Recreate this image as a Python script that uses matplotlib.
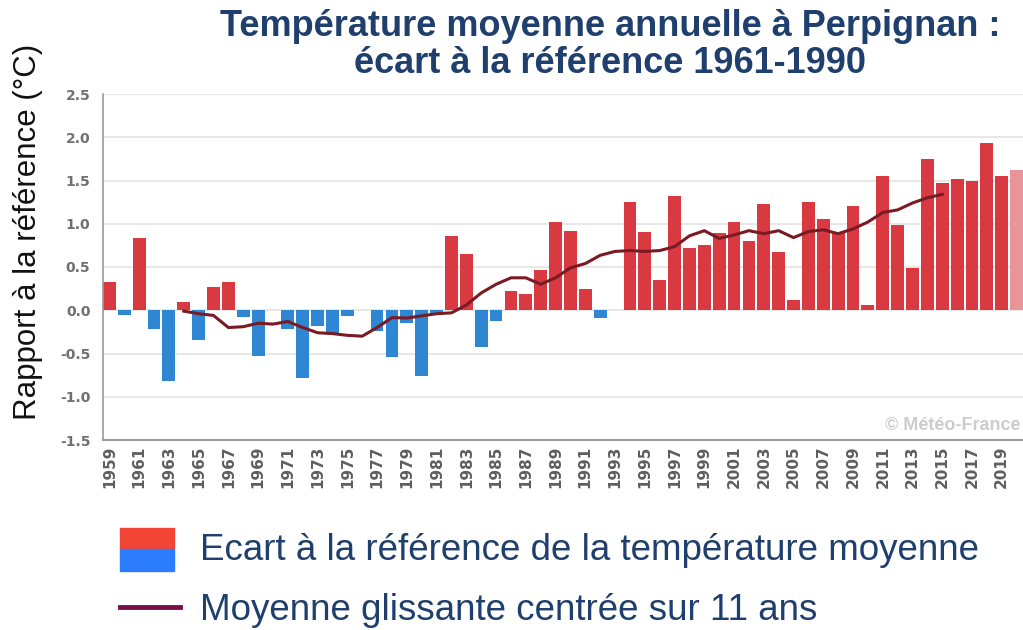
import numpy as np
import matplotlib.pyplot as plt
from matplotlib.patches import Rectangle
from matplotlib.lines import Line2D

# --- Data ---
years = list(range(1959, 2021))
anomaly = [
    0.33, -0.06, 0.83, -0.22, -0.82, 0.10, -0.34, 0.27, 0.33, -0.08,   # 1959-1968
    -0.53, 0.0, -0.22, -0.78, -0.18, -0.27, -0.07, 0.0, -0.24, -0.54,  # 1969-1978
    -0.15, -0.76, -0.05, 0.86, 0.65, -0.42, -0.12, 0.22, 0.19, 0.47,   # 1979-1988
    1.02, 0.92, 0.24, -0.09, 0.0, 1.25, 0.90, 0.35, 1.32, 0.72,        # 1989-1998
    0.75, 0.89, 1.02, 0.80, 1.23, 0.67, 0.12, 1.25, 1.05, 0.89,        # 1999-2008
    1.20, 0.06, 1.55, 0.99, 0.49, 1.75, 1.47, 1.52, 1.50, 1.93,        # 2009-2018
    1.55, 1.62,                                                        # 2019-2020
]
provisional_year = 2020

ma_years = list(range(1964, 2016))
moving_avg = [
    -0.01, -0.04, -0.06, -0.20, -0.19, -0.15, -0.16, -0.13, -0.20, -0.26,  # 1964-1973
    -0.27, -0.29, -0.30, -0.20, -0.085, -0.09, -0.065, -0.04, -0.03, 0.06, # 1974-1983
    0.20, 0.30, 0.375, 0.375, 0.30, 0.375, 0.49, 0.54, 0.635, 0.68,        # 1984-1993
    0.69, 0.68, 0.69, 0.735, 0.86, 0.92, 0.83, 0.87, 0.92, 0.885,          # 1994-2003
    0.92, 0.84, 0.91, 0.93, 0.885, 0.94, 1.02, 1.13, 1.16, 1.24,           # 2004-2013
    1.30, 1.34,                                                            # 2014-2015
]

title = "Température moyenne annuelle à Perpignan :\nécart à la référence 1961-1990"
ylabel = "Rapport à la référence (°C)"
legend_bars = "Ecart à la référence de la température moyenne"
legend_line = "Moyenne glissante centrée sur 11 ans"

# --- Colours ---
RED = "#d93a42"
BLUE = "#2f86d2"
LIGHT_RED = "#e8959a"
LINE = "#7a1a22"
NAVY = "#1f3f6e"
TICK_GRAY = "#5e5e5e"

colors = []
for y, v in zip(years, anomaly):
    if y == provisional_year:
        colors.append(LIGHT_RED)
    elif v >= 0:
        colors.append(RED)
    else:
        colors.append(BLUE)

# --- Figure ---
fig = plt.figure(figsize=(10.23, 6.3), dpi=100)
ax = fig.add_axes([103 / 1023, 1 - 440 / 630, 920 / 1023, 346 / 630])

ax.bar(years, anomaly, width=0.86, color=colors, edgecolor="none", zorder=2)
ax.plot(ma_years, moving_avg, color=LINE, linewidth=2.2, zorder=3)

ax.set_xlim(1958.57, 2020.43)
ax.set_ylim(-1.5, 2.5)
ax.set_yticks(np.arange(-1.5, 2.51, 0.5))
ax.set_yticklabels([f"{t:.1f}" for t in np.arange(-1.5, 2.51, 0.5)],
                   fontfamily="Liberation Sans Narrow", fontweight="bold",
                   fontsize=10, color="#707070")
ax.set_xticks(years[::2])
ax.set_xticklabels([str(y) for y in years[::2]], rotation=90,
                   fontfamily="Liberation Sans Narrow", fontweight="bold",
                   fontsize=11, color=TICK_GRAY)
ax.tick_params(axis="both", length=0)
ax.tick_params(axis="x", pad=4)
ax.tick_params(axis="y", pad=9)

ax.grid(axis="y", color="#e3e3e3", linewidth=1.2, zorder=0)
ax.set_axisbelow(True)
for side in ["top", "right"]:
    ax.spines[side].set_visible(False)
ax.spines["left"].set_color("#9a9a9a")
ax.spines["bottom"].set_color("#9a9a9a")
ax.spines["left"].set_linewidth(1.2)
ax.spines["bottom"].set_linewidth(1.5)

ax.text(0.997, 0.042, "© Météo-France", transform=ax.transAxes, ha="right",
        va="center", fontsize=13, fontweight="bold", color="#cccccc",
        fontfamily="Liberation Sans")

# y label and title
fig.text(28 / 1023, 1 - 232 / 630, ylabel, rotation=90, ha="center", va="center",
         fontsize=22.5, fontfamily="Liberation Sans", color="#111111")
fig.text(610 / 1023, 1 - 45 / 630, title, ha="center", va="center",
         fontsize=26, fontweight="bold", fontfamily="Liberation Sans",
         color=NAVY, linespacing=1.08)

# --- Legend below the chart ---
fig.add_artist(Rectangle((120 / 1023, 1 - 549 / 630), 54 / 1023, 21 / 630,
                         transform=fig.transFigure, color="#f24536"))
fig.add_artist(Rectangle((120 / 1023, 1 - 571 / 630), 54 / 1023, 22 / 630,
                         transform=fig.transFigure, color="#2b7cff"))
fig.text(200 / 1023, 1 - 551 / 630, legend_bars, ha="left", va="center",
         fontsize=26.5, fontfamily="Liberation Sans", color=NAVY)
fig.add_artist(Line2D([120 / 1023, 180 / 1023], [1 - 607 / 630, 1 - 607 / 630],
                      transform=fig.transFigure, color="#7a1048", linewidth=3.5))
fig.text(200 / 1023, 1 - 610 / 630, legend_line, ha="left", va="center",
         fontsize=26.5, fontfamily="Liberation Sans", color=NAVY)

fig.savefig("out.png", dpi=100)
